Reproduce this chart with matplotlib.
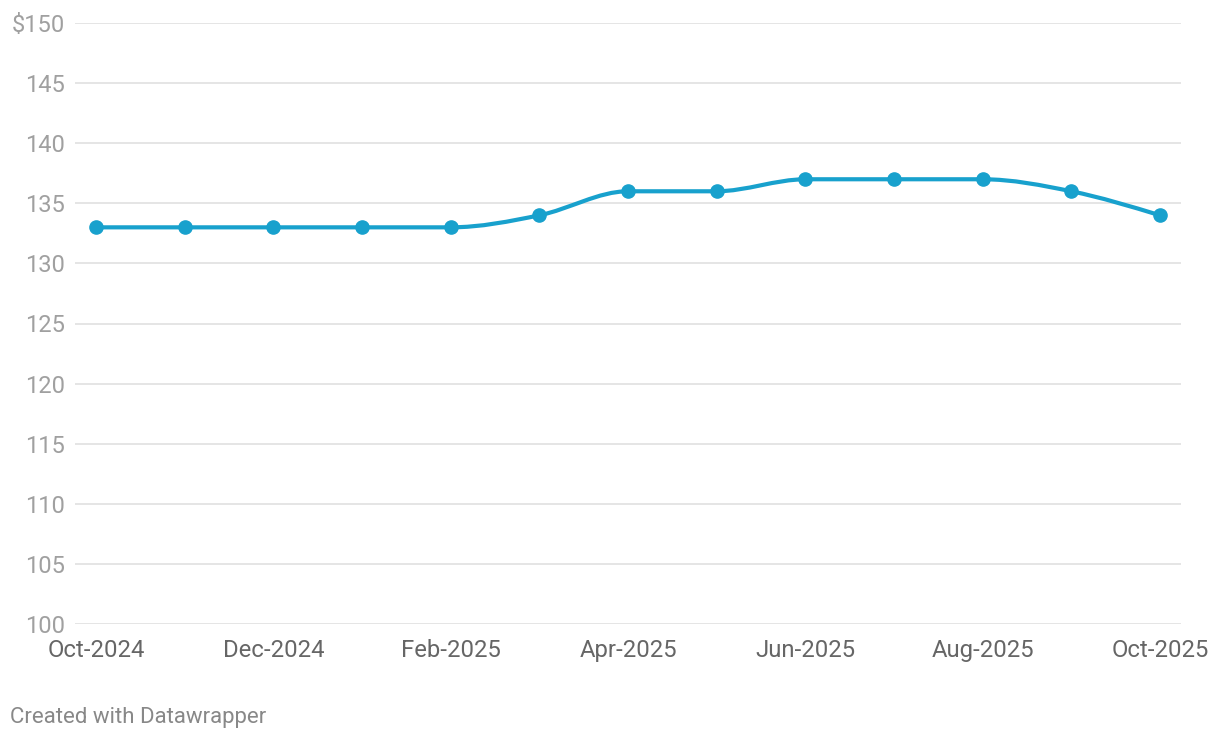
import numpy as np
import matplotlib.pyplot as plt
from matplotlib.path import Path
from matplotlib.patches import PathPatch

# Datos del gráfico
months = ['Oct-2024', 'Nov-2024', 'Dec-2024', 'Jan-2025', 'Feb-2025', 'Mar-2025', 'Apr-2025',
          'May-2025', 'Jun-2025', 'Jul-2025', 'Aug-2025', 'Sep-2025', 'Oct-2025']
prices = [133, 133, 133, 133, 133, 134, 136, 136, 137, 137, 137, 136, 134]
y_ticks = [100, 105, 110, 115, 120, 125, 130, 135, 140, 145, 150]
y_labels = ['100', '105', '110', '115', '120', '125', '130', '135', '140', '145', '$150']

color = '#18a1cd'
plt.rcParams['font.family'] = ['Roboto', 'DejaVu Sans']


# Pendientes de la curva monótona (como curveMonotoneX de d3)
def monotone_slopes(x, y):
    n = len(x)
    t = np.zeros(n)
    for i in range(1, n - 1):
        h0, h1 = x[i] - x[i - 1], x[i + 1] - x[i]
        s0, s1 = (y[i] - y[i - 1]) / h0, (y[i + 1] - y[i]) / h1
        p = (s0 * h1 + s1 * h0) / (h0 + h1)
        t[i] = (np.sign(s0) + np.sign(s1)) * min(abs(s0), abs(s1), 0.5 * abs(p))
    t[0] = (3 * (y[1] - y[0]) / (x[1] - x[0]) - t[1]) / 2
    t[-1] = (3 * (y[-1] - y[-2]) / (x[-1] - x[-2]) - t[-2]) / 2
    return t


def monotone_path(x, y):
    t = monotone_slopes(x, y)
    verts = [(x[0], y[0])]
    codes = [Path.MOVETO]
    for i in range(len(x) - 1):
        h = (x[i + 1] - x[i]) / 3
        verts += [(x[i] + h, y[i] + h * t[i]),
                  (x[i + 1] - h, y[i + 1] - h * t[i + 1]),
                  (x[i + 1], y[i + 1])]
        codes += [Path.CURVE4] * 3
    return Path(verts, codes)


xs = np.arange(len(months), dtype=float)
ys = np.array(prices, dtype=float)

fig = plt.figure(figsize=(12.2, 7.4), dpi=100)
ax = fig.add_axes([75 / 1220, 1 - 624 / 740, (1181 - 75) / 1220, (624 - 23) / 740])

for yt in y_ticks:
    ax.axhline(yt, color='#e3e3e3', lw=1.3, zorder=1)

ax.add_patch(PathPatch(monotone_path(xs, ys), fill=False, edgecolor=color,
                       lw=3, capstyle='round', zorder=3))
ax.plot(xs, ys, 'o', color=color, markersize=9.5, zorder=4)

ax.set_xlim(-0.237, 12.237)
ax.set_ylim(100, 150)
ax.set_yticks(y_ticks)
ax.set_yticklabels(y_labels)
ax.set_xticks(xs[::2])
ax.set_xticklabels(months[::2])
ax.tick_params(axis='y', length=0, pad=7, labelsize=17, labelcolor='#a0a0a0')
ax.tick_params(axis='x', length=0, pad=10.5, labelsize=17.2, labelcolor='#666666')
for s in ax.spines.values():
    s.set_visible(False)

fig.text(10 / 1220, 1 - 717 / 740, 'Created with Datawrapper', fontsize=16,
         color='#888888', va='center', ha='left')

fig.savefig('out.png', dpi=100)
